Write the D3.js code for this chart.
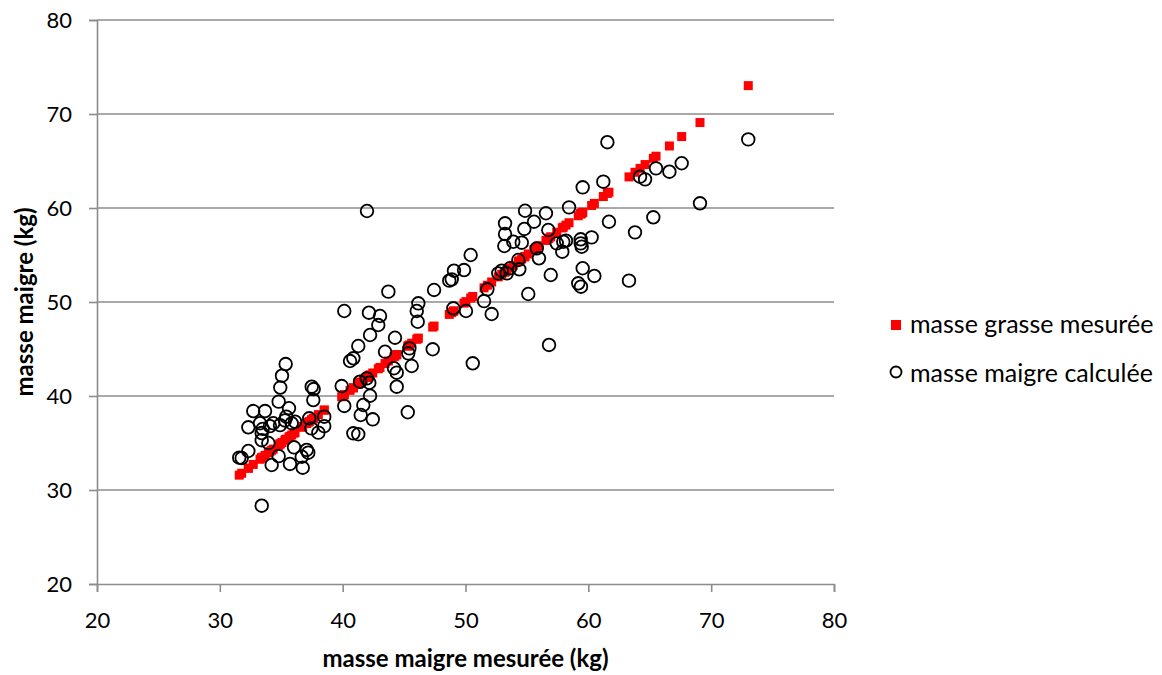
<!DOCTYPE html>

<head>
	<meta charset="utf-8">
	<style>
		body {
			margin: 0;
			background: #fff;
		}

		svg text {
			font-family: Lato, "Open Sans", sans-serif;
			fill: #000;
		}

		.axis text {
			font-size: 22px;
		}

		.axis path,
		.axis line {
			fill: none;
			stroke: #8c8c8c;
			stroke-width: 1.6px;
		}

		.grid line {
			stroke: #8c8c8c;
			stroke-width: 1.6px;
		}

		.axis-title {
			font-size: 24px;
			font-weight: bold;
		}

		.legend text {
			font-size: 25px;
		}
	</style>
	<title>masse maigre</title>
	<script src="https://d3js.org/d3.v7.min.js"></script>
</head>

<body>
	<div id='scatter'></div>
	<script>
		// masse maigre mesurée (kg), one value per subject
		var mesuree = [
			35.36, 35.06, 34.92, 34.79, 35.63, 37.48, 37.64, 37.61, 32.72, 33.68,
			32.32, 33.27, 33.49, 33.41, 34.08, 34.35, 34.9, 35.3, 35.85, 36.12,
			33.41, 33.95, 32.32, 31.58, 31.78, 34.79, 34.22, 35.71, 36.04, 37.07,
			37.2, 36.67, 36.75, 37.28, 38.02, 38.5, 38.5, 33.41, 50.42, 49.06,
			49.88, 48.68, 48.88, 43.72, 47.44, 40.13, 42.14, 43.04, 42.9, 42.23,
			46.16, 46.03, 46.11, 49.01, 50.04, 44.26, 41.27, 40.87, 40.6, 43.45,
			45.43, 45.34, 47.33, 45.62, 44.18, 44.4, 50.59, 39.92, 41.41, 41.96,
			42.17, 44.4, 42.23, 40.13, 41.68, 41.47, 42.45, 45.3, 40.87, 41.27,
			41.98, 59.54, 61.22, 54.85, 56.55, 58.43, 53.22, 55.58, 54.79, 56.74,
			61.68, 53.22, 53.89, 54.58, 53.16, 55.8, 55.98, 57.96, 58.18, 57.43,
			57.88, 59.38, 59.38, 59.46, 60.27, 54.3, 54.38, 53.62, 53.36, 52.95,
			52.67, 56.94, 59.54, 60.49, 59.18, 59.4, 51.78, 55.11, 51.51, 52.13,
			56.8, 73.02, 61.55, 67.6, 66.6, 65.51, 64.21, 64.62, 69.09, 65.29,
			63.8, 63.31, 35.41, 37.45
		];

		// masse maigre calculée (kg), same order
		var calculee = [
			43.4, 42.16, 40.9, 39.4, 38.7, 40.99, 40.74, 39.57, 38.4, 38.4,
			36.67, 37.1, 36.5, 36.06, 36.8, 37.1, 36.9, 37.4, 37.1, 37.27,
			35.3, 35.0, 34.15, 33.44, 33.4, 33.6, 32.66, 32.77, 34.54, 34.26,
			33.97, 33.54, 32.37, 37.63, 36.1, 36.8, 37.8, 28.33, 55.0, 53.33,
			53.4, 52.27, 52.41, 51.1, 51.28, 49.04, 48.86, 48.51, 47.55, 46.49,
			49.86, 49.04, 47.9, 49.33, 49.04, 46.2, 45.32, 44.01, 43.72, 44.71,
			45.07, 44.54, 44.97, 43.19, 42.95, 42.48, 43.48, 41.06, 41.52, 41.88,
			41.41, 40.99, 40.03, 38.94, 39.04, 37.98, 37.52, 38.27, 36.03, 35.93,
			59.68, 62.2, 62.8, 59.71, 59.44, 60.07, 58.37, 58.54, 57.77, 57.66,
			58.54, 57.23, 56.41, 56.31, 55.96, 55.71, 54.65, 56.41, 56.52, 56.24,
			55.35, 56.67, 56.24, 55.88, 56.88, 54.47, 53.48, 53.59, 53.05, 53.33,
			53.05, 52.87, 53.59, 52.77, 51.99, 51.63, 51.35, 50.85, 50.1, 48.72,
			45.43, 67.3, 67.0, 64.76, 63.86, 64.22, 63.33, 63.05, 60.5, 59.01,
			57.41, 52.27, 37.8, 36.56
		];

		var xTicks = [20, 30, 40, 50, 60, 70, 80];
		var yTicks = [20, 30, 40, 50, 60, 70, 80];
		var seriesNames = ["masse grasse mesurée", "masse maigre calculée"];
		var xTitle = "masse maigre mesurée (kg)";
		var yTitle = "masse maigre (kg)";

		var width = 1162,
			height = 675,
			plot = { left: 97, right: 834, top: 20, bottom: 584 };

		var svg = d3.select("#scatter").append("svg")
			.attr("width", width)
			.attr("height", height);

		var xScale = d3.scaleLinear().domain([20, 80]).range([plot.left, plot.right]);
		var yScale = d3.scaleLinear().domain([20, 80]).range([plot.bottom, plot.top]);

		// horizontal gridlines
		svg.append("g")
			.attr("class", "grid")
			.selectAll("line")
			.data(yTicks.slice(1))
			.enter().append("line")
			.attr("x1", plot.left)
			.attr("x2", plot.right)
			.attr("y1", function (d) { return yScale(d); })
			.attr("y2", function (d) { return yScale(d); });

		svg.append("g")
			.attr("class", "axis axis--x")
			.attr("transform", "translate(0," + plot.bottom + ")")
			.call(d3.axisBottom(xScale).tickValues(xTicks).tickSize(8).tickSizeOuter(8).tickPadding(20));

		svg.append("g")
			.attr("class", "axis axis--y")
			.attr("transform", "translate(" + plot.left + ",0)")
			.call(d3.axisLeft(yScale).tickValues(yTicks).tickSize(8).tickSizeOuter(8).tickPadding(17));

		// series 1: red squares at (mesurée, mesurée)
		var sq = 9;
		svg.append("g")
			.selectAll("rect")
			.data(mesuree)
			.enter().append("rect")
			.attr("x", function (d) { return xScale(d) - sq / 2; })
			.attr("y", function (d) { return yScale(d) - sq / 2; })
			.attr("width", sq)
			.attr("height", sq)
			.attr("fill", "#ff0000");

		// series 2: open circles
		svg.append("g")
			.selectAll("circle")
			.data(mesuree)
			.enter().append("circle")
			.attr("cx", function (d) { return xScale(d); })
			.attr("cy", function (d, i) { return yScale(calculee[i]); })
			.attr("r", 6.3)
			.attr("fill", "none")
			.attr("stroke", "#000")
			.attr("stroke-width", 1.8);

		svg.append("text")
			.attr("class", "axis-title")
			.attr("x", (plot.left + plot.right) / 2)
			.attr("y", 667)
			.style("text-anchor", "middle")
			.text(xTitle);

		svg.append("text")
			.attr("class", "axis-title")
			.attr("transform", "translate(33," + ((plot.top + plot.bottom) / 2) + ") rotate(-90)")
			.style("text-anchor", "middle")
			.text(yTitle);

		var legend = svg.append("g").attr("class", "legend");
		legend.append("rect")
			.attr("x", 891)
			.attr("y", 320)
			.attr("width", 10)
			.attr("height", 10)
			.attr("fill", "#ff0000");
		legend.append("circle")
			.attr("cx", 896)
			.attr("cy", 372)
			.attr("r", 5.5)
			.attr("fill", "none")
			.attr("stroke", "#000")
			.attr("stroke-width", 1.8);
		legend.selectAll("text")
			.data(seriesNames)
			.enter().append("text")
			.attr("x", 910)
			.attr("y", function (d, i) { return 333 + i * 49; })
			.text(function (d) { return d; });
	</script>
</body>
